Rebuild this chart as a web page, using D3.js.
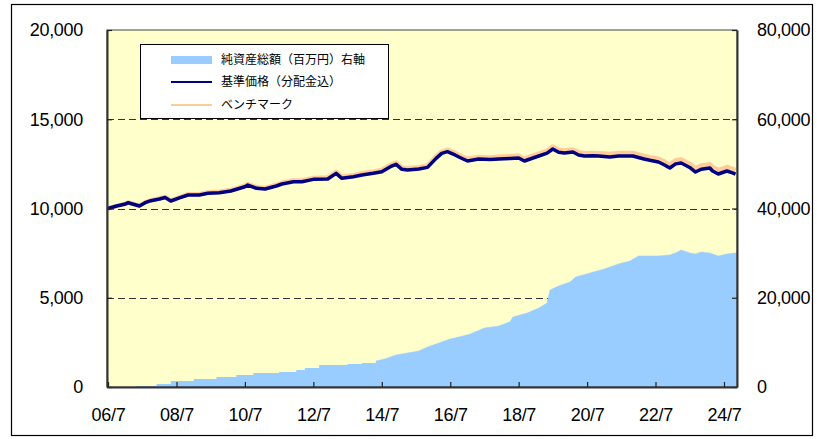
<!DOCTYPE html>
<html><head><meta charset="utf-8">
<script src="https://cdn.jsdelivr.net/npm/d3@7"></script>
<style>body{margin:0;background:#fff}svg{display:block}</style>
</head><body>
<svg id="chart" width="817" height="439"></svg>
<script>
// ---- data ----
const navDates = ["2006-07","2006-10","2007-01","2007-02","2007-06","2007-08","2007-10","2008-01","2008-03","2008-05","2008-08","2008-11","2009-03","2009-06","2009-10","2010-02","2010-07","2010-08","2010-11","2011-02","2011-06","2011-08","2011-12","2012-03","2012-07","2012-12","2013-03","2013-05","2013-09","2013-12","2014-04","2014-07","2014-10","2014-12","2015-02","2015-04","2015-08","2015-11","2016-02","2016-04","2016-06","2016-08","2016-10","2017-01","2017-05","2017-09","2017-12","2018-04","2018-07","2018-09","2018-12","2019-02","2019-05","2019-07","2019-09","2019-11","2020-02","2020-04","2020-06","2020-09","2020-11","2021-03","2021-06","2021-11","2022-03","2022-05","2022-08","2022-10","2022-12","2023-02","2023-04","2023-07","2023-09","2023-11","2024-02","2024-03","2024-05","2024-08","2024-10","2024-11"];
const navValues = [10000,10140,10250,10325,10140,10325,10437,10530,10615,10420,10590,10756,10756,10850,10887,10980,11220,11316,11130,11092,11260,11372,11500,11500,11633,11652,11970,11690,11782,11876,11970,12062,12342,12474,12194,12156,12212,12305,12810,13090,13184,13050,12885,12661,12773,12740,12773,12800,12829,12661,12830,12941,13100,13333,13150,13109,13165,13000,12941,12960,12941,12885,12941,12941,12773,12700,12605,12450,12268,12500,12548,12300,12044,12200,12268,12100,11932,12100,12000,11932];
const benchValues = [10000,10150,10260,10340,10160,10345,10460,10560,10645,10455,10630,10800,10800,10900,10940,11035,11280,11370,11190,11155,11325,11440,11570,11575,11710,11730,12055,11775,11870,11970,12065,12160,12440,12570,12290,12250,12310,12405,12910,13190,13290,13160,12995,12775,12890,12860,12895,12925,12955,12790,12960,13075,13235,13470,13290,13250,13310,13150,13095,13115,13100,13050,13110,13115,12950,12880,12790,12640,12460,12700,12750,12505,12255,12410,12485,12320,12155,12325,12225,12155];
const assetDates = ["2006-07","2007-04","2007-05","2007-12","2008-05","2009-01","2009-09","2010-04","2010-10","2011-07","2012-01","2012-04","2012-09","2013-07","2013-12","2014-05","2014-08","2014-10","2014-12","2015-04","2015-08","2015-11","2016-03","2016-07","2016-10","2017-02","2017-07","2017-12","2018-04","2018-05","2018-10","2019-02","2019-05","2019-06","2019-09","2020-01","2020-03","2020-08","2021-01","2021-06","2021-10","2022-01","2022-08","2022-12","2023-02","2023-04","2023-07","2023-09","2023-11","2024-02","2024-05","2024-08","2024-11"];
const assetValues = [0,0,220,670,1345,1790,2240,2690,3140,3360,3810,4260,4930,5150,5380,5830,6275,6720,7170,7620,8070,8960,9860,10760,11200,11880,13220,13670,14630,15690,16580,17700,18820,21740,22630,23530,24650,25550,26440,27560,28240,29360,29360,29580,30030,30700,30030,29800,30250,30030,29360,29800,30030];
const leftTicks = [0,5000,10000,15000,20000];
const rightTicks = [0,20000,40000,60000,80000];
const gridTicks = [5000,10000,15000];
const xTickDates = ["2006-07","2008-07","2010-07","2012-07","2014-07","2016-07","2018-07","2020-07","2022-07","2024-07"];
const xTickLabels = ["06/7","08/7","10/7","12/7","14/7","16/7","18/7","20/7","22/7","24/7"];
const legendLabels = ["純資産総額（百万円）右軸","基準価格（分配金込）","ベンチマーク"];
const xStart = "2006-06-20", xEnd = "2024-11-17";
const stepUntil = "2014-05"; // asset series is drawn stepwise up to this month, smooth afterwards

// ---- chart ----
const parseM = d3.timeParse("%Y-%m");
const parseD = d3.timeParse("%Y-%m-%d");
const svg = d3.select("#chart");
const L = 107, R = 737, T = 30, B = 387;
const x = d3.scaleTime().domain([parseD(xStart), parseD(xEnd)]).range([L, R]);
const yL = d3.scaleLinear().domain([0, 20000]).range([B, T]);
const yR = d3.scaleLinear().domain([0, 80000]).range([B, T]);
const numFont = "'Liberation Sans', Arial, sans-serif";

svg.append("rect").attr("x", 11.5).attr("y", 4.5).attr("width", 801).attr("height", 431)
  .attr("fill", "#fff").attr("stroke", "#000").attr("stroke-width", 1.2);

svg.append("rect").attr("x", L).attr("y", T).attr("width", R - L).attr("height", B - T)
  .attr("fill", "#FFFFCC");

svg.append("g").selectAll("line").data(gridTicks).join("line")
  .attr("x1", L).attr("x2", R).attr("y1", d => Math.round(yL(d)) + 0.5).attr("y2", d => Math.round(yL(d)) + 0.5)
  .attr("stroke", "#333").attr("stroke-width", 1).attr("stroke-dasharray", "7,4");

const assets = assetDates.map((d, i) => ({ d: parseM(d), v: assetValues[i] }));
const cut = assetDates.indexOf(stepUntil);
const early = assets.slice(0, cut + 1);
const late = assets.slice(cut).concat([{ d: x.domain()[1], v: assetValues[assetValues.length - 1] }]);
svg.append("path").datum(early)
  .attr("d", d3.area().curve(d3.curveStepAfter).x(p => x(p.d)).y0(B).y1(p => yR(p.v)))
  .attr("fill", "#99CCFF");
svg.append("path").datum(late)
  .attr("d", d3.area().curve(d3.curveLinear).x(p => x(p.d)).y0(B).y1(p => yR(p.v)))
  .attr("fill", "#99CCFF").attr("stroke", "#99CCFF").attr("stroke-width", 0.5);

const bench = navDates.map((d, i) => ({ d: parseM(d), v: benchValues[i] }));
const nav = navDates.map((d, i) => ({ d: parseM(d), v: navValues[i] }));
const line = d3.line().x(p => x(p.d)).y(p => yL(p.v));
svg.append("path").datum(bench).attr("d", line).attr("fill", "none")
  .attr("stroke", "#FFCC99").attr("stroke-width", 4.5).attr("stroke-linejoin", "round");
svg.append("path").datum(nav).attr("d", line).attr("fill", "none")
  .attr("stroke", "#000080").attr("stroke-width", 3.5).attr("stroke-linejoin", "round");

// plot frame
svg.append("rect").attr("x", L).attr("y", T).attr("width", R - L).attr("height", B - T)
  .attr("fill", "none").attr("stroke", "#444").attr("stroke-width", 1);

function styleAxis(g) {
  g.select(".domain").attr("stroke", "#333").attr("stroke-width", 2);
  g.selectAll(".tick line").attr("stroke", "#222").attr("stroke-width", 1.2);
  g.selectAll("text").attr("font-family", numFont).attr("font-size", 18).attr("fill", "#000")
    .attr("letter-spacing", "-0.3px");
}
const fmt = d3.format(",");
svg.append("g").attr("transform", `translate(${L},0)`)
  .call(d3.axisLeft(yL).tickValues(leftTicks).tickSize(-5).tickSizeOuter(0).tickPadding(24).tickFormat(fmt))
  .call(styleAxis);
svg.append("g").attr("transform", `translate(${R},0)`)
  .call(d3.axisRight(yR).tickValues(rightTicks).tickSize(-5).tickSizeOuter(0).tickPadding(20).tickFormat(fmt))
  .call(styleAxis);
const xTicks = xTickDates.map(parseM);
svg.append("g").attr("transform", `translate(0,${B})`)
  .call(d3.axisBottom(x).tickValues(xTicks).tickSize(-5).tickSizeOuter(0).tickPadding(21)
    .tickFormat((d, i) => xTickLabels[i]))
  .call(styleAxis);

// legend
const lg = svg.append("g");
lg.append("rect").attr("x", 140.5).attr("y", 44.5).attr("width", 248).attr("height", 74)
  .attr("fill", "#fff").attr("stroke", "#000").attr("stroke-width", 1);
const ly = [60, 82, 105];
lg.append("rect").attr("x", 171).attr("y", ly[0] - 4).attr("width", 41).attr("height", 8).attr("fill", "#99CCFF");
lg.append("line").attr("x1", 171).attr("x2", 212).attr("y1", ly[1]).attr("y2", ly[1])
  .attr("stroke", "#000080").attr("stroke-width", 2);
lg.append("line").attr("x1", 171).attr("x2", 212).attr("y1", ly[2]).attr("y2", ly[2])
  .attr("stroke", "#FFCC99").attr("stroke-width", 2);
lg.selectAll("text").data(legendLabels).join("text")
  .attr("x", 221).attr("y", (d, i) => ly[i]).attr("dy", "0.35em")
  .attr("font-family", "'Noto Sans CJK JP', sans-serif").attr("font-size", 12).attr("fill", "#000")
  .text(d => d);
</script>
</body></html>
